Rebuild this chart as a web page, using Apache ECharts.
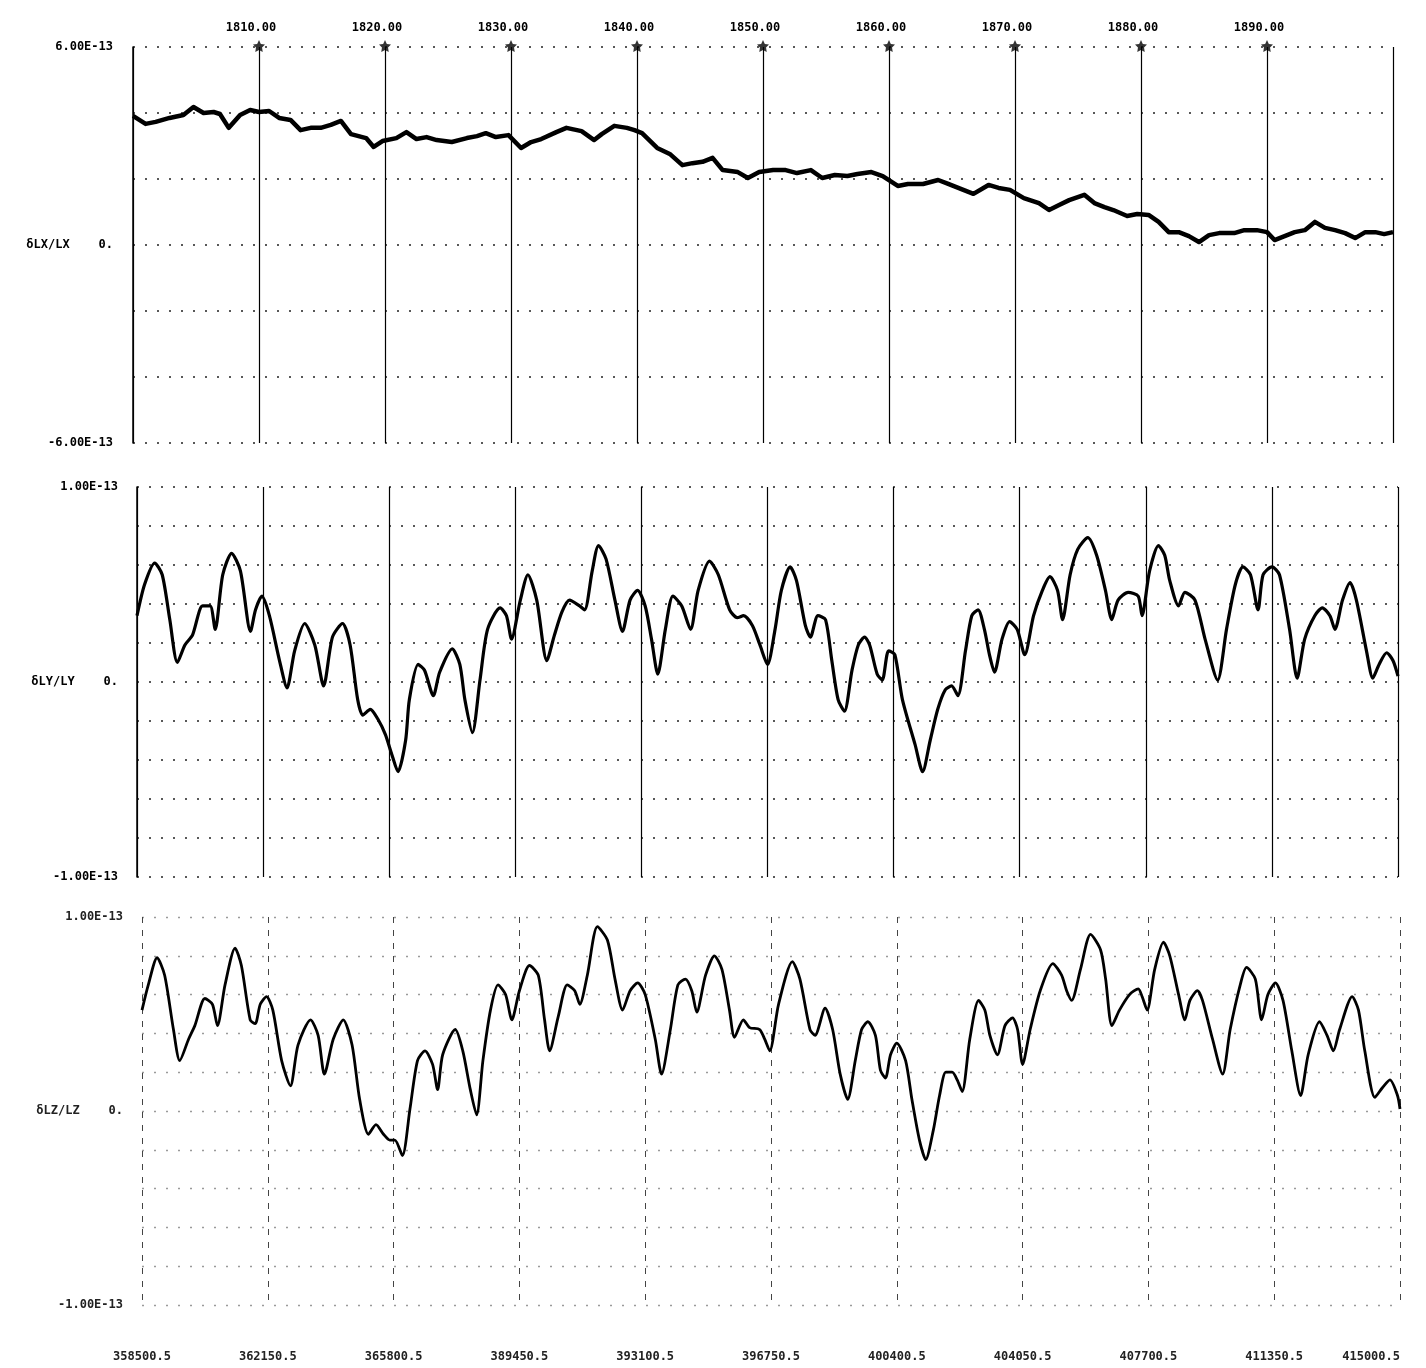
<!DOCTYPE html>
<html>
<head>
<meta charset="utf-8">
<script src="https://cdn.jsdelivr.net/npm/echarts@6.0.0/dist/echarts.min.js"></script>
<style>
html,body{margin:0;padding:0;background:#fff;}
#chart{width:1426px;height:1368px;}
</style>
</head>
<body>
<div id="chart"></div>
<script>
// ---- DATA (values in units of 1e-13) ----
const topTickYears = [1810, 1820, 1830, 1840, 1850, 1860, 1870, 1880, 1890];
const bottomLabels = ['358500.5', '362150.5', '365800.5', '389450.5', '393100.5', '396750.5',
  '400400.5', '404050.5', '407700.5', '411350.5', '415000.5'];

const lxYears = [1800.0,1801.0,1801.8,1802.9,1804.0,1804.8,1805.6,1806.4,1806.9,1807.6,1808.5,1809.3,1810.0,1810.8,1811.6,1812.5,1813.3,1814.1,1814.9,1815.7,1816.5,1817.3,1818.5,1819.1,1819.8,1820.9,1821.7,1822.5,1823.3,1824.1,1825.3,1826.5,1827.3,1828.0,1828.8,1829.8,1830.8,1831.6,1832.4,1833.6,1834.4,1835.6,1836.6,1837.2,1838.2,1839.2,1839.8,1840.4,1841.6,1842.6,1843.6,1844.4,1845.2,1846.0,1846.8,1848.0,1848.8,1849.7,1850.8,1851.8,1852.7,1853.8,1854.7,1855.7,1856.7,1857.5,1858.6,1859.5,1860.7,1861.5,1862.7,1863.9,1864.7,1865.9,1866.7,1867.9,1868.7,1869.6,1870.7,1871.9,1872.7,1873.5,1874.3,1875.5,1876.3,1877.1,1877.8,1878.9,1879.7,1880.6,1881.4,1882.2,1883.0,1883.8,1884.6,1885.4,1886.2,1887.4,1888.2,1889.2,1890.0,1890.6,1891.4,1892.2,1893.0,1893.8,1894.6,1895.4,1896.2,1897.0,1897.8,1898.6,1899.3,1900.0];
const lxValues = [3.91,3.67,3.73,3.85,3.94,4.18,4.00,4.03,3.97,3.55,3.94,4.09,4.03,4.06,3.85,3.79,3.48,3.55,3.55,3.64,3.76,3.36,3.24,2.97,3.15,3.24,3.42,3.21,3.27,3.18,3.12,3.24,3.30,3.39,3.27,3.33,2.94,3.12,3.21,3.42,3.55,3.45,3.18,3.36,3.61,3.55,3.48,3.39,2.94,2.76,2.42,2.48,2.52,2.64,2.27,2.21,2.03,2.21,2.27,2.27,2.18,2.27,2.03,2.12,2.09,2.15,2.21,2.09,1.79,1.85,1.85,1.97,1.85,1.67,1.55,1.82,1.73,1.67,1.42,1.27,1.06,1.21,1.36,1.52,1.27,1.15,1.06,0.88,0.94,0.91,0.70,0.39,0.39,0.27,0.09,0.30,0.36,0.36,0.45,0.45,0.39,0.15,0.27,0.39,0.45,0.70,0.52,0.45,0.36,0.21,0.39,0.39,0.33,0.39];

const lyYears = [1800.0,1800.6,1801.4,1802.0,1802.6,1803.2,1803.8,1804.4,1805.2,1805.8,1806.2,1806.8,1807.5,1808.2,1809.0,1809.4,1809.9,1810.5,1811.3,1811.9,1812.5,1813.3,1814.1,1814.8,1815.5,1816.3,1816.9,1817.5,1817.9,1818.5,1819.1,1819.7,1820.2,1820.7,1821.3,1821.6,1822.3,1822.8,1823.5,1824.0,1825.0,1825.6,1826.0,1826.6,1827.2,1827.8,1828.8,1829.3,1829.7,1830.4,1831.0,1831.7,1832.5,1833.1,1833.7,1834.3,1835.1,1835.5,1836.1,1836.6,1837.2,1837.9,1838.5,1839.1,1839.7,1840.3,1840.8,1841.3,1841.9,1842.5,1843.2,1843.9,1844.5,1845.4,1846.1,1847.0,1847.6,1848.1,1848.8,1849.4,1850.0,1850.6,1851.1,1851.8,1852.3,1853.0,1853.4,1854.0,1854.6,1855.1,1855.6,1856.1,1856.7,1857.2,1857.7,1858.1,1858.7,1859.1,1859.6,1860.1,1860.7,1861.7,1862.3,1862.9,1863.5,1864.1,1864.6,1865.1,1865.7,1866.2,1866.7,1867.2,1867.6,1868.0,1868.6,1869.2,1869.8,1870.4,1871.1,1871.8,1872.4,1873.0,1873.4,1874.0,1874.6,1875.4,1876.1,1876.8,1877.3,1877.8,1878.6,1879.4,1879.7,1880.3,1881.0,1881.5,1881.9,1882.6,1883.1,1883.9,1884.7,1885.7,1886.4,1887.1,1887.7,1888.3,1888.9,1889.3,1890.0,1890.6,1891.4,1892.0,1892.6,1893.4,1894.0,1894.6,1895.0,1895.6,1896.2,1896.7,1897.5,1898.0,1898.5,1899.1,1899.6,1900.0];
const lyValues = [0.34,0.50,0.61,0.55,0.32,0.10,0.19,0.24,0.39,0.39,0.27,0.55,0.66,0.57,0.26,0.37,0.44,0.34,0.11,-0.03,0.16,0.30,0.19,-0.02,0.23,0.30,0.19,-0.09,-0.17,-0.14,-0.19,-0.27,-0.37,-0.46,-0.30,-0.09,0.09,0.06,-0.07,0.05,0.17,0.09,-0.09,-0.26,0.01,0.27,0.38,0.34,0.22,0.42,0.55,0.42,0.11,0.24,0.36,0.42,0.39,0.37,0.57,0.70,0.63,0.42,0.26,0.42,0.47,0.39,0.22,0.04,0.27,0.44,0.39,0.27,0.47,0.62,0.55,0.37,0.33,0.34,0.29,0.19,0.09,0.27,0.47,0.59,0.52,0.29,0.23,0.34,0.32,0.11,-0.09,-0.15,0.06,0.19,0.23,0.19,0.04,0.01,0.16,0.14,-0.09,-0.32,-0.46,-0.30,-0.14,-0.04,-0.02,-0.07,0.16,0.34,0.37,0.27,0.14,0.05,0.22,0.31,0.27,0.14,0.34,0.47,0.54,0.47,0.32,0.55,0.68,0.74,0.65,0.47,0.32,0.42,0.46,0.44,0.34,0.57,0.70,0.65,0.52,0.39,0.46,0.42,0.22,0.01,0.27,0.50,0.59,0.55,0.37,0.55,0.59,0.55,0.27,0.02,0.22,0.34,0.38,0.34,0.27,0.42,0.51,0.42,0.16,0.02,0.09,0.15,0.11,0.03];

const lzYears = [1800.0,1800.5,1801.2,1801.8,1802.5,1803.0,1803.7,1804.2,1805.0,1805.6,1806.0,1806.6,1807.4,1807.9,1808.6,1809.0,1809.4,1809.9,1810.4,1811.1,1811.8,1812.4,1813.4,1814.0,1814.5,1815.2,1816.0,1816.7,1817.3,1818.0,1818.6,1819.2,1819.7,1820.1,1820.7,1821.3,1821.9,1822.5,1823.1,1823.5,1823.9,1824.9,1825.5,1826.1,1826.6,1827.1,1827.7,1828.3,1828.9,1829.4,1830.0,1830.8,1831.5,1832.0,1832.4,1833.1,1833.8,1834.4,1834.8,1835.4,1836.2,1837.0,1837.6,1838.2,1838.8,1839.4,1840.0,1840.8,1841.3,1842.0,1842.6,1843.2,1843.7,1844.1,1844.8,1845.5,1846.1,1846.7,1847.1,1847.8,1848.3,1849.1,1849.5,1849.9,1850.6,1851.7,1852.3,1853.1,1853.5,1854.3,1854.9,1855.5,1856.1,1856.7,1857.2,1857.7,1858.3,1858.7,1859.1,1859.5,1860.0,1860.7,1861.2,1861.8,1862.3,1862.9,1863.4,1863.9,1864.4,1864.8,1865.2,1865.8,1866.5,1867.0,1867.4,1868.0,1868.6,1869.2,1869.6,1870.0,1870.6,1871.4,1872.4,1873.1,1873.5,1873.9,1874.6,1875.4,1876.2,1876.6,1877.1,1877.7,1878.5,1879.2,1879.5,1879.9,1880.5,1881.2,1881.7,1882.4,1882.9,1883.3,1883.9,1884.3,1885.1,1885.9,1886.5,1887.3,1887.8,1888.5,1889.0,1889.5,1890.1,1890.7,1891.4,1892.1,1892.7,1893.6,1894.2,1894.7,1895.2,1896.2,1896.7,1897.2,1898.0,1898.6,1899.2,1899.8,1900.0];
const lzValues = [0.52,0.65,0.79,0.70,0.42,0.26,0.37,0.44,0.58,0.55,0.44,0.65,0.84,0.75,0.47,0.45,0.55,0.59,0.52,0.26,0.13,0.34,0.47,0.39,0.19,0.37,0.47,0.34,0.06,-0.12,-0.07,-0.12,-0.15,-0.15,-0.23,0.01,0.26,0.31,0.24,0.11,0.29,0.42,0.31,0.11,-0.02,0.26,0.52,0.65,0.60,0.47,0.62,0.75,0.70,0.47,0.31,0.49,0.65,0.62,0.55,0.70,0.95,0.88,0.68,0.52,0.62,0.66,0.60,0.37,0.19,0.42,0.65,0.68,0.62,0.51,0.70,0.80,0.73,0.52,0.38,0.47,0.43,0.42,0.37,0.31,0.55,0.77,0.68,0.42,0.39,0.53,0.42,0.19,0.06,0.26,0.42,0.46,0.39,0.21,0.17,0.29,0.35,0.26,0.06,-0.15,-0.25,-0.10,0.08,0.20,0.20,0.16,0.10,0.37,0.57,0.52,0.39,0.29,0.44,0.48,0.42,0.24,0.42,0.62,0.76,0.70,0.62,0.57,0.73,0.91,0.83,0.68,0.44,0.52,0.60,0.63,0.59,0.52,0.73,0.87,0.80,0.60,0.47,0.57,0.62,0.57,0.37,0.19,0.42,0.65,0.74,0.68,0.47,0.60,0.66,0.57,0.31,0.08,0.29,0.46,0.39,0.31,0.42,0.59,0.52,0.31,0.07,0.12,0.16,0.08,0.01];

// ---- helpers ----
const zip = (xs, ys) => xs.map((x, i) => [x, ys[i]]);
const FONT = 'DejaVu Sans Mono';
const isZero = v => Math.abs(v) < 1e-9;

function yLabelFmt(maxTxt, zeroTxt, minTxt, lo, hi) {
  return v => {
    if (Math.abs(v - hi) < 1e-9) return maxTxt;
    if (Math.abs(v - lo) < 1e-9) return minTxt;
    if (isZero(v)) return zeroTxt;
    return '';
  };
}

const dotted = (color, w) => ({ color: color, width: w, type: [2, 10] });

const chart = echarts.init(document.getElementById('chart'), null, { renderer: 'canvas' });

const grids = [
  { left: 133, width: 1260, top: 47, height: 396 },
  { left: 137, width: 1261, top: 487, height: 390 },
  { left: 142, width: 1258, top: 917, height: 388 }
];

const baseX = {
  type: 'value', min: 1800, max: 1900, interval: 10,
  axisLine: { show: false }, axisTick: { show: false }
};

const option = {
  backgroundColor: '#ffffff',
  animation: false,
  grid: grids,
  xAxis: [
    Object.assign({}, baseX, {
      gridIndex: 0, position: 'top',
      splitLine: { show: true, lineStyle: { color: '#000', width: 1.2, type: 'solid' } },
      axisLabel: {
        show: true, margin: 13, color: '#000', fontFamily: FONT, fontSize: 12, fontWeight: 'bold',
        padding: [0, 16, 0, 0],
        formatter: v => topTickYears.indexOf(v) >= 0 ? v.toFixed(2) : ''
      }
    }),
    Object.assign({}, baseX, {
      gridIndex: 1,
      splitLine: { show: true, lineStyle: { color: '#000', width: 1.2, type: 'solid' } },
      axisLabel: { show: false }
    }),
    Object.assign({}, baseX, {
      gridIndex: 2,
      splitLine: { show: true, lineStyle: { color: '#444', width: 1, type: [6, 7] } },
      axisLabel: {
        show: true, margin: 46, color: '#222', fontFamily: FONT, fontSize: 12, fontWeight: 'bold',
        alignMaxLabel: 'right',
        formatter: v => bottomLabels[Math.round((v - 1800) / 10)] || ''
      }
    })
  ],
  yAxis: [
    {
      gridIndex: 0, type: 'value', min: -6, max: 6, interval: 2,
      axisLine: { show: true, lineStyle: { color: '#000', width: 1.5 } },
      axisTick: { show: false },
      splitLine: { show: true, lineStyle: dotted('#222', 1.6) },
      axisLabel: {
        margin: 20, color: '#000', fontFamily: FONT, fontSize: 12, fontWeight: 'bold',
        formatter: yLabelFmt('6.00E-13', 'δLX/LX    0.', '-6.00E-13', -6, 6)
      }
    },
    {
      gridIndex: 1, type: 'value', min: -1, max: 1, interval: 0.2,
      axisLine: { show: true, lineStyle: { color: '#000', width: 1.5 } },
      axisTick: { show: false },
      splitLine: { show: true, lineStyle: dotted('#222', 1.6) },
      axisLabel: {
        margin: 19, color: '#000', fontFamily: FONT, fontSize: 12, fontWeight: 'bold',
        formatter: yLabelFmt('1.00E-13', 'δLY/LY    0.', '-1.00E-13', -1, 1)
      }
    },
    {
      gridIndex: 2, type: 'value', min: -1, max: 1, interval: 0.2,
      axisLine: { show: false },
      axisTick: { show: false },
      splitLine: { show: true, lineStyle: dotted('#9a9a9a', 1.4) },
      axisLabel: {
        margin: 19, color: '#222', fontFamily: FONT, fontSize: 12, fontWeight: 'bold',
        formatter: yLabelFmt('1.00E-13', 'δLZ/LZ    0.', '-1.00E-13', -1, 1)
      }
    }
  ],
  series: [
    {
      type: 'line', xAxisIndex: 0, yAxisIndex: 0, data: zip(lxYears, lxValues),
      showSymbol: false, symbol: 'none', smooth: false,
      lineStyle: { color: '#000', width: 4.5, join: 'round' }
    },
    {
      type: 'scatter', xAxisIndex: 0, yAxisIndex: 0, clip: false,
      data: topTickYears.map(y => [y, 6]),
      symbol: 'path://M0,-10 L2.9,-4 L9.5,-3.1 L4.8,1.5 L5.9,8.1 L0,5 L-5.9,8.1 L-4.8,1.5 L-9.5,-3.1 L-2.9,-4 Z',
      symbolSize: 12, symbolOffset: [0, -1],
      itemStyle: { color: '#000' }
    },
    {
      type: 'line', xAxisIndex: 1, yAxisIndex: 1, data: zip(lyYears, lyValues),
      showSymbol: false, symbol: 'none', smooth: 0.25,
      lineStyle: { color: '#000', width: 3.2, join: 'round' }
    },
    {
      type: 'line', xAxisIndex: 2, yAxisIndex: 2, data: zip(lzYears, lzValues),
      showSymbol: false, symbol: 'none', smooth: 0.25,
      lineStyle: { color: '#000', width: 2.8, join: 'round' }
    }
  ]
};

chart.setOption(option);
</script>
</body>
</html>
